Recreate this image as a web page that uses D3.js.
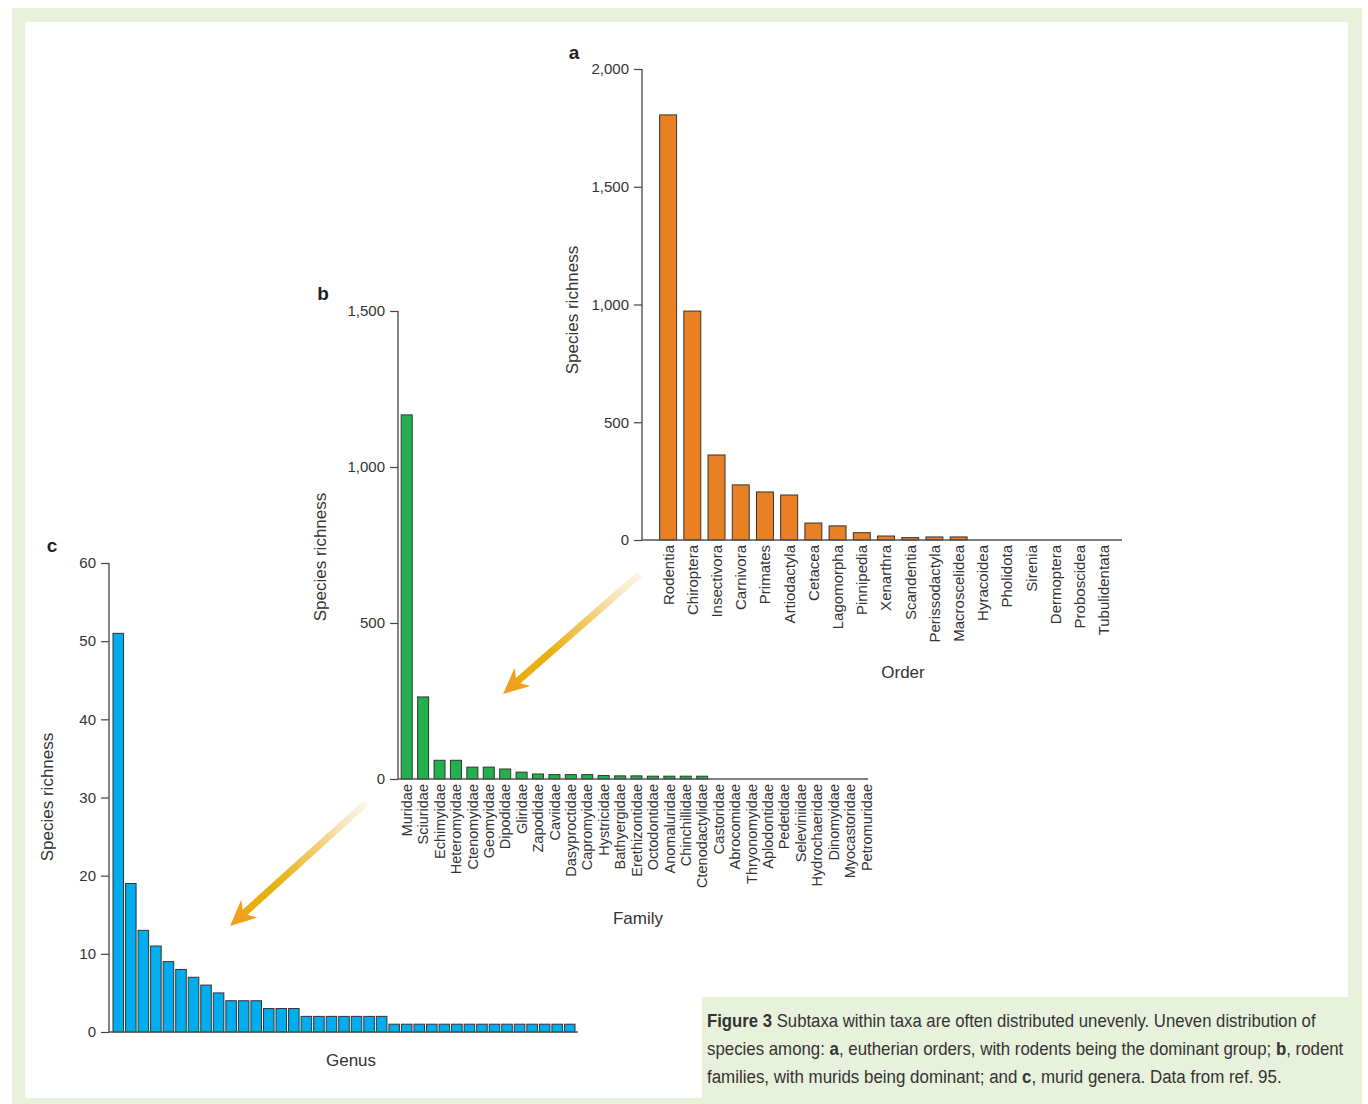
<!DOCTYPE html>
<html>
<head>
<meta charset="utf-8">
<script src="https://cdn.jsdelivr.net/npm/d3@7/dist/d3.min.js"></script>
<style>
  body { margin: 0; background: #fff; }
  svg { display: block; font-family: "Liberation Sans", Arial, Helvetica, sans-serif; }
  .tick text { fill: #333; }
</style>
</head>
<body>
<div id="fig"></div>
<script>
// panel a: eutherian orders
var orders = ["Rodentia", "Chiroptera", "Insectivora", "Carnivora", "Primates", "Artiodactyla",
    "Cetacea", "Lagomorpha", "Pinnipedia", "Xenarthra", "Scandentia", "Perissodactyla",
    "Macroscelidea", "Hyracoidea", "Pholidota", "Sirenia", "Dermoptera", "Proboscidea", "Tubulidentata"]
var orderRichness = [1805, 972, 361, 234, 204, 191, 72, 60, 31, 17, 10, 13, 13, 0, 0, 0, 0, 0, 0]
var orderTicks = [0, 500, 1000, 1500, 2000]

// panel b: rodent families
var families = ["Muridae", "Sciuridae", "Echimyidae", "Heteromyidae", "Ctenomyidae", "Geomyidae",
    "Dipodidae", "Gliridae", "Zapodidae", "Caviidae", "Dasyproctidae", "Capromyidae", "Hystricidae",
    "Bathyergidae", "Erethizontidae", "Octodontidae", "Anomaluridae", "Chinchillidae", "Ctenodactylidae",
    "Castoridae", "Abrocomidae", "Thryonomyidae", "Aplodontidae", "Pedetidae", "Seleviniidae",
    "Hydrochaeridae", "Dinomyidae", "Myocastoridae", "Petromuridae"]
var familyRichness = [1167, 263, 60, 60, 38, 38, 32, 22, 16, 14, 14, 14, 11, 10, 10, 9, 9, 9, 9,
    0, 0, 0, 0, 0, 0, 0, 0, 0, 0]
var familyTicks = [0, 500, 1000, 1500]

// panel c: murid genera (unlabelled)
var genusRichness = [51, 19, 13, 11, 9, 8, 7, 6, 5, 4, 4, 4, 3, 3, 3, 2, 2, 2, 2, 2, 2, 2,
    1, 1, 1, 1, 1, 1, 1, 1, 1, 1, 1, 1, 1, 1, 1]
var genusTicks = [0, 10, 20, 30, 40, 50, 60]

var captionLines = [
    [["Figure 3", true], [" Subtaxa within taxa are often distributed unevenly. Uneven distribution of", false]],
    [["species among: ", false], ["a", true], [", eutherian orders, with rodents being the dominant group; ", false], ["b", true], [", rodent", false]],
    [["families, with murids being dominant; and ", false], ["c", true], [", murid genera. Data from ref. 95.", false]]
]

var W = 1368, H = 1104
var frameCol = "#e8f1dc"

var svg = d3.select("#fig").append("svg")
    .attr("width", W)
    .attr("height", H)

// frame + white panel + caption box
svg.append("rect").attr("x", 12).attr("y", 8).attr("width", 1350).attr("height", 1096).attr("fill", frameCol)
svg.append("rect").attr("x", 25).attr("y", 22).attr("width", 1323).attr("height", 1076).attr("fill", "#fff")
svg.append("rect").attr("x", 702).attr("y", 997).attr("width", 646).attr("height", 101).attr("fill", frameCol)

function drawPanel(p) {
    var g = svg.append("g")
    var ids = p.values.map((d, i) => i)

    var x = d3.scaleBand()
        .domain(ids)
        .range(p.xRange)
        .paddingInner(p.pad)
        .paddingOuter(p.pad / 2)

    var y = d3.scaleLinear()
        .domain([0, p.ticks[p.ticks.length - 1]])
        .range(p.yRange)

    g.selectAll("rect.bar")
        .data(p.values)
        .enter()
        .append("rect")
        .attr("class", "bar")
        .attr("x", (d, i) => x(i))
        .attr("y", d => y(d))
        .attr("width", x.bandwidth())
        .attr("height", d => y(0) - y(d))
        .attr("fill", p.color)
        .attr("stroke", "#333")
        .attr("stroke-width", d => d > 0 ? 1 : 0)

    var yAxis = g.append("g")
        .attr("transform", "translate(" + p.axisX + ",0)")
        .call(d3.axisLeft(y).tickValues(p.ticks).tickSize(8).tickPadding(5).tickFormat(d3.format(",")))
    yAxis.select(".domain").remove()
    yAxis.selectAll(".tick line").attr("stroke", "#444").attr("stroke-width", 1.2)
    yAxis.selectAll(".tick text").style("font-size", "15px").attr("font-family", null)

    g.append("line")
        .attr("x1", p.axisX).attr("x2", p.axisX)
        .attr("y1", y(0)).attr("y2", y.range()[1])
        .attr("stroke", "#444").attr("stroke-width", 1.3)
    g.append("line")
        .attr("x1", p.axisX).attr("x2", p.xEnd)
        .attr("y1", y(0)).attr("y2", y(0))
        .attr("stroke", "#555").attr("stroke-width", 1.6)

    if (p.labels) {
        g.selectAll("text.cat")
            .data(p.labels)
            .enter()
            .append("text")
            .attr("class", "cat")
            .attr("transform", (d, i) => "translate(" + (x(i) + x.bandwidth() / 2) + "," + (y(0) + 5) + ") rotate(-90)")
            .attr("text-anchor", "end")
            .attr("dy", "0.36em")
            .style("font-size", p.labelSize)
            .attr("fill", "#333")
            .text(d => d)
    }

    g.append("text")
        .attr("x", p.title[0]).attr("y", p.title[1])
        .attr("text-anchor", "middle")
        .style("font-size", "17px")
        .attr("fill", "#333")
        .text(p.title[2])

    g.append("text")
        .attr("transform", "translate(" + p.yTitle[0] + "," + p.yTitle[1] + ") rotate(-90)")
        .attr("text-anchor", "middle")
        .style("font-size", "17px")
        .attr("fill", "#333")
        .text("Species richness")

    g.append("text")
        .attr("x", p.letter[0]).attr("y", p.letter[1])
        .attr("text-anchor", "middle")
        .style("font-size", "19px")
        .style("font-weight", "bold")
        .attr("fill", "#222")
        .text(p.letter[2])
}

drawPanel({
    values: orderRichness, labels: orders, ticks: orderTicks, color: "#e98024",
    xRange: [656, 1116], pad: 0.3, yRange: [540, 69], axisX: 642, xEnd: 1122,
    labelSize: "15px", title: [903, 678, "Order"], yTitle: [578, 310], letter: [574, 59, "a"]
})

drawPanel({
    values: familyRichness, labels: families, ticks: familyTicks, color: "#23b14d",
    xRange: [398.5, 874.5], pad: 0.33, yRange: [779, 311], axisX: 398, xEnd: 868,
    labelSize: "14.5px", title: [638, 924, "Family"], yTitle: [326, 557], letter: [323, 300, "b"]
})

drawPanel({
    values: genusRichness, labels: null, ticks: genusTicks, color: "#00aeef",
    xRange: [112, 576], pad: 0.16, yRange: [1032, 563], axisX: 109, xEnd: 578,
    labelSize: "15px", title: [351, 1066, "Genus"], yTitle: [53, 797], letter: [52, 552, "c"]
})

// arrows from one panel to the next
var defs = svg.append("defs")

function arrow(id, x0, y0, x1, y1) {
    var dx = x1 - x0, dy = y1 - y0
    var len = Math.sqrt(dx * dx + dy * dy)
    var ux = dx / len, uy = dy / len
    var nx = -uy, ny = ux
    var headLen = 24, headW = 12
    var bx = x1 - ux * headLen, by = y1 - uy * headLen

    var grad = defs.append("linearGradient")
        .attr("id", id)
        .attr("gradientUnits", "userSpaceOnUse")
        .attr("x1", x0).attr("y1", y0).attr("x2", x1).attr("y2", y1)
    grad.append("stop").attr("offset", "0%").attr("stop-color", "#f6e3c0").attr("stop-opacity", 0.35)
    grad.append("stop").attr("offset", "35%").attr("stop-color", "#f0c866").attr("stop-opacity", 0.9)
    grad.append("stop").attr("offset", "65%").attr("stop-color", "#e8b212")
    grad.append("stop").attr("offset", "100%").attr("stop-color", "#e9a80c")

    svg.append("line")
        .attr("x1", x0).attr("y1", y0)
        .attr("x2", bx + ux * 6).attr("y2", by + uy * 6)
        .attr("stroke", "url(#" + id + ")")
        .attr("stroke-width", 7)

    var pts = [
        [x1, y1],
        [bx + nx * headW - ux * 2, by + ny * headW - uy * 2],
        [bx + ux * 6, by + uy * 6],
        [bx - nx * headW - ux * 2, by - ny * headW - uy * 2]
    ]
    svg.append("path")
        .attr("d", "M" + pts.map(p => p.join(",")).join("L") + "Z")
        .attr("fill", "#f0a01e")
}

arrow("arrA", 640, 574, 503, 694)
arrow("arrB", 366, 803, 230, 926)

// caption, squeezed to the width of the condensed face used in print
var capTargets = [609, 637, 575]
captionLines.forEach((line, li) => {
    var t = svg.append("text")
        .attr("x", 0).attr("y", 0)
        .style("font-size", "19px")
        .attr("fill", "#333")
    line.forEach(seg => {
        t.append("tspan")
            .style("font-weight", seg[1] ? "bold" : "normal")
            .text(seg[0])
    })
    var w = t.node().getComputedTextLength()
    var k = capTargets[li] / w
    t.attr("transform", "translate(707," + (1027 + li * 28) + ") scale(" + k + ",1)")
})
</script>
</body>
</html>
